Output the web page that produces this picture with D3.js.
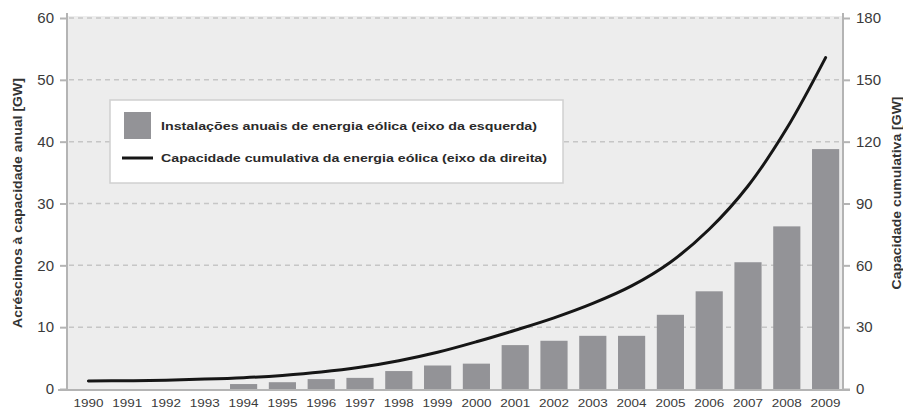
<!DOCTYPE html>
<html>
<head>
<meta charset="utf-8">
<script src="https://cdn.jsdelivr.net/npm/d3@7/dist/d3.min.js"></script>
<style>
  html, body { margin: 0; padding: 0; background: #ffffff; }
  svg { display: block; font-family: "Liberation Sans", Arial, sans-serif; }
</style>
</head>
<body>
<svg id="chart" width="903" height="413"></svg>
<script>
const years = ["1990","1991","1992","1993","1994","1995","1996","1997","1998","1999",
               "2000","2001","2002","2003","2004","2005","2006","2007","2008","2009"];
const annualGW = [0, 0, 0, 0, 0.8, 1.1, 1.6, 1.8, 2.9, 3.8,
                  4.1, 7.1, 7.8, 8.6, 8.6, 12.0, 15.8, 20.5, 26.3, 38.8];
const cumulativeGW = [3.9, 4.0, 4.3, 4.8, 5.5, 6.6, 8.2, 10.5, 13.7, 17.8,
                      22.9, 28.5, 34.5, 41.5, 50.0, 61.5, 77.5, 98.5, 126.5, 160.8];
const leftTicks = [0, 10, 20, 30, 40, 50, 60];
const rightTicks = [0, 30, 60, 90, 120, 150, 180];
const legendLabels = [
  "Instalações anuais de energia eólica (eixo da esquerda)",
  "Capacidade cumulativa da energia eólica (eixo da direita)"
];
const leftTitle = "Acréscimos à capacidade anual [GW]";
const rightTitle = "Capacidade cumulativa [GW]";

const svg = d3.select("#chart");
const plotL = 67, plotR = 843, plotT = 16, plotB = 389;

const x = d3.scaleBand().domain(years).range([69, 845]).paddingInner(0.3).paddingOuter(0.15);
const yL = d3.scaleLinear().domain([0, 60]).range([plotB, 18]);
const yR = d3.scaleLinear().domain([0, 180]).range([plotB, 18]);

// plot background
svg.append("rect").attr("x", plotL).attr("y", plotT).attr("width", plotR - plotL).attr("height", plotB - plotT)
  .attr("fill", "#ededed");

// gridlines
svg.append("g").selectAll("line").data(leftTicks.filter(d => d > 0)).join("line")
  .attr("x1", plotL + 2).attr("x2", plotR - 2)
  .attr("y1", d => yL(d)).attr("y2", d => yL(d))
  .attr("stroke", "#c6c6c6").attr("stroke-width", 1.5).attr("stroke-dasharray", "5,4");

// bars
svg.append("g").selectAll("rect").data(years).join("rect")
  .attr("x", d => x(d)).attr("width", x.bandwidth())
  .attr("y", (d, i) => yL(annualGW[i])).attr("height", (d, i) => plotB - yL(annualGW[i]))
  .attr("fill", "#939397");

// left axis
const gL = svg.append("g").attr("transform", `translate(${plotL},0)`)
  .call(d3.axisLeft(yL).tickValues(leftTicks).tickSize(7).tickPadding(6).tickFormat(d3.format("d")));
gL.select(".domain").remove();
gL.selectAll(".tick line").attr("stroke", "#b4b4b4").attr("stroke-width", 2);
gL.selectAll(".tick text").attr("fill", "#3a3a3a").style("font-size", "15px").style("font-family", "Liberation Sans, Arial, sans-serif");
svg.append("line").attr("x1", plotL).attr("x2", plotL).attr("y1", 13).attr("y2", plotB + 1)
  .attr("stroke", "#b4b4b4").attr("stroke-width", 2);

// right axis
const gR = svg.append("g").attr("transform", `translate(${plotR},0)`)
  .call(d3.axisRight(yR).tickValues(rightTicks).tickSize(7).tickPadding(6).tickFormat(d3.format("d")));
gR.select(".domain").remove();
gR.selectAll(".tick line").attr("stroke", "#b4b4b4").attr("stroke-width", 2);
gR.selectAll(".tick text").attr("fill", "#3a3a3a").style("font-size", "15px").style("font-family", "Liberation Sans, Arial, sans-serif");
svg.append("line").attr("x1", plotR).attr("x2", plotR).attr("y1", 13).attr("y2", plotB + 1)
  .attr("stroke", "#b4b4b4").attr("stroke-width", 2);

// bottom axis
svg.append("line").attr("x1", 58).attr("x2", 850).attr("y1", plotB + 1).attr("y2", plotB + 1)
  .attr("stroke", "#b4b4b4").attr("stroke-width", 2);
const gB = svg.append("g").attr("transform", `translate(0,${plotB + 1})`)
  .call(d3.axisBottom(x).tickSize(0).tickPadding(9));
gB.select(".domain").remove();
gB.selectAll(".tick text").attr("fill", "#3a3a3a").style("font-size", "11px")
  .style("font-family", "Liberation Sans, Arial, sans-serif")
  .attr("textLength", 30).attr("lengthAdjust", "spacingAndGlyphs");

// cumulative line
const line = d3.line()
  .x((d, i) => x(years[i]) + x.bandwidth() / 2)
  .y(d => yR(d))
  .curve(d3.curveCatmullRom.alpha(0.5));
svg.append("path").datum(cumulativeGW).attr("d", line)
  .attr("fill", "none").attr("stroke", "#161616").attr("stroke-width", 3).attr("stroke-linecap", "round");

// axis titles
svg.append("text").attr("transform", "translate(22,203) rotate(-90)")
  .attr("text-anchor", "middle").attr("fill", "#333").style("font-size", "12.5px").style("font-weight", "bold")
  .attr("textLength", 250).attr("lengthAdjust", "spacingAndGlyphs")
  .text(leftTitle);
svg.append("text").attr("transform", "translate(901,193) rotate(-90)")
  .attr("text-anchor", "middle").attr("fill", "#333").style("font-size", "12.5px").style("font-weight", "bold")
  .attr("textLength", 193).attr("lengthAdjust", "spacingAndGlyphs")
  .text(rightTitle);

// legend
const lg = svg.append("g");
lg.append("rect").attr("x", 110).attr("y", 100).attr("width", 453).attr("height", 83)
  .attr("fill", "#ffffff").attr("stroke", "#d0d0d0").attr("stroke-width", 1.5);
lg.append("rect").attr("x", 124).attr("y", 112).attr("width", 27).attr("height", 27).attr("fill", "#939397");
lg.append("line").attr("x1", 122).attr("x2", 153).attr("y1", 158).attr("y2", 158)
  .attr("stroke", "#161616").attr("stroke-width", 3);
lg.append("text").attr("x", 161).attr("y", 130).attr("fill", "#2a2a2a")
  .style("font-size", "11.5px").style("font-weight", "bold")
  .attr("textLength", 376).attr("lengthAdjust", "spacingAndGlyphs").text(legendLabels[0]);
lg.append("text").attr("x", 161).attr("y", 162).attr("fill", "#2a2a2a")
  .style("font-size", "11.5px").style("font-weight", "bold")
  .attr("textLength", 386).attr("lengthAdjust", "spacingAndGlyphs").text(legendLabels[1]);
</script>
</body>
</html>
